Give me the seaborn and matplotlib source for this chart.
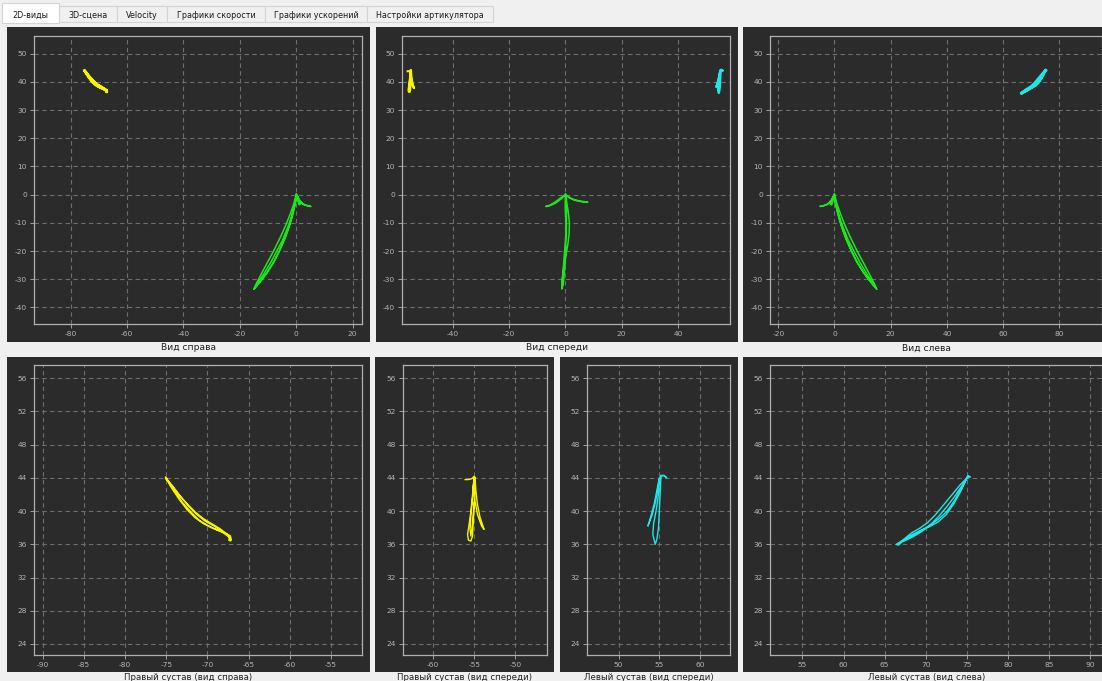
import matplotlib
matplotlib.use("Agg")
import matplotlib.pyplot as plt
from matplotlib.patches import Rectangle
import seaborn as sns

# right joint, side view
right_side_x = [-75.1, -74.5, -73.5, -72.5, -71.5, -70.5, -69.5, -68.5, -67.4, -67.2,
                -67.4, -67.3, -68.5, -69.5, -70.5, -71.5, -72.5, -73.5, -74.5, -75.0,
                -74.8, -74.0, -73.0, -72.0, -71.0, -70.0, -69.0, -68.0, -67.2, -67.1,
                -67.3, -68.2, -69.2, -70.3, -71.3, -72.3, -73.3, -74.3, -75.1]
right_side_y = [44.1, 43.0, 41.5, 40.2, 39.2, 38.5, 38.0, 37.6, 37.1, 36.4,
                36.5, 37.0, 37.9, 38.5, 39.1, 39.9, 40.9, 42.0, 43.3, 44.0,
                43.6, 42.4, 41.0, 39.9, 38.9, 38.3, 37.8, 37.4, 37.0, 36.5,
                36.8, 37.5, 38.2, 38.8, 39.6, 40.6, 41.8, 43.1, 43.9]

# right joint, front view
right_front_x = [-56.1, -55.7, -55.3, -55.0, -55.2, -55.4, -55.6, -55.8, -55.7, -55.4,
                 -55.2, -55.1, -55.0, -54.9, -54.9, -54.8, -54.6, -54.3, -53.9, -53.8,
                 -54.1, -54.6, -54.9, -55.1, -55.0, -55.2, -55.4, -55.5, -55.4, -55.2, -55.0]
right_front_y = [43.8, 43.8, 43.9, 44.2, 42.0, 40.0, 38.5, 37.2, 36.5, 36.4,
                 37.0, 39.0, 41.0, 42.5, 44.1, 42.5, 40.8, 39.3, 38.1, 37.8,
                 38.2, 39.6, 41.2, 43.0, 44.0, 41.5, 39.5, 37.8, 37.0, 38.5, 41.0]

# left joint, front view
left_front_x = [55.9, 55.6, 55.2, 55.0, 54.8, 54.5, 54.1, 53.6, 54.0, 54.4, 54.7, 55.0,
                54.9, 54.6, 54.3, 54.2, 54.5, 54.7, 54.9, 55.0, 55.1, 55.2, 55.5, 55.8]
left_front_y = [44.0, 44.3, 44.3, 43.8, 42.5, 41.0, 39.5, 38.2, 39.5, 41.0, 42.5, 44.0,
                42.0, 40.0, 38.5, 37.2, 36.0, 36.6, 38.0, 40.0, 42.0, 44.2, 44.3, 44.1]

# left joint, side view
left_side_x = [66.5, 67.5, 68.5, 69.5, 70.5, 71.5, 72.5, 73.5, 74.3, 75.1,
               74.2, 73.2, 72.2, 71.2, 70.2, 69.2, 68.3, 67.8, 67.2, 66.6,
               67.6, 68.6, 69.6, 70.6, 71.6, 72.6, 73.6, 74.6, 75.2, 75.4,
               75.1, 74.3, 73.4, 72.5, 71.5, 70.4, 69.4, 68.4, 67.4, 66.7,
               66.4, 66.7, 67.0]
left_side_y = [36.0, 36.6, 37.1, 37.7, 38.3, 39.0, 39.9, 41.3, 42.7, 44.1,
               43.2, 42.0, 40.8, 39.6, 38.6, 37.9, 37.4, 37.0, 36.5, 36.1,
               36.5, 37.0, 37.6, 38.4, 39.4, 40.6, 41.9, 43.4, 44.2, 44.1,
               44.3, 42.5, 40.9, 39.6, 38.7, 38.1, 37.7, 37.2, 36.6, 36.1,
               36.0, 35.9, 36.2]

# incisor point, side view (right); the left view is its mirror
incisor_side_x = [0.0, -0.8, -2.2, -3.8, -5.6, -7.8, -10.2, -12.6, -14.3, -15.1,
                  -13.4, -10.8, -8.2, -6.0, -4.0, -2.4, -1.2, -0.3, 0.2, -0.5,
                  -1.6, -3.0, -4.7, -6.9, -9.2, -11.7, -13.9, -14.9, -13.0, -10.4,
                  -7.9, -5.8, -3.9, -2.3, -1.0, 0.1, 0.8, 2.0, 3.5, 5.2,
                  4.2, 2.5, 1.2, 0.4, 1.5, 1.0, 0.5, 0.0]
incisor_side_y = [0.3, -3.0, -7.0, -11.0, -15.0, -19.5, -24.0, -28.5, -31.8, -33.6,
                  -31.6, -28.2, -24.2, -20.0, -15.5, -11.0, -7.0, -3.0, 0.0, -3.5,
                  -7.5, -11.5, -15.8, -20.0, -24.3, -28.4, -31.8, -33.4, -31.2, -27.8,
                  -23.8, -19.5, -15.0, -10.5, -5.5, -0.2, -1.5, -3.0, -3.8, -4.2,
                  -4.0, -3.5, -2.2, -0.5, -3.3, -3.6, -2.0, 0.0]

# incisor point, front view
incisor_front_x = [0.0, 0.5, 1.0, 1.4, 1.3, 0.8, 0.1, -0.6, -1.2, -1.3,
                   -0.8, -0.4, -0.1, 0.1, 0.2, 0.1, -0.1, 0.0, -1.5, -3.5,
                   -5.5, -7.0, -5.5, -3.5, -1.5, 0.0, 1.5, 3.5, 5.5, 8.0,
                   5.5, 3.0, 1.0, 0.0, 0.4, 0.3, -0.3, -0.9, -1.2]
incisor_front_y = [0.3, -3.0, -6.0, -10.0, -14.0, -18.0, -22.0, -26.0, -30.0, -33.5,
                   -32.0, -28.0, -24.0, -19.0, -14.0, -9.0, -4.0, 0.0, -1.5, -3.0,
                   -3.9, -4.2, -3.7, -2.5, -1.0, 0.0, -1.2, -2.0, -2.5, -2.7,
                   -2.3, -1.8, -0.7, 0.0, -5.0, -12.0, -20.0, -28.0, -33.0]

tabs = ["2D-виды", "3D-сцена", "Velocity", "Графики скорости",
        "Графики ускорений", "Настройки артикулятора"]
tab_edges = [2, 59, 117, 167, 265, 367, 493]

top_titles = ["Вид справа", "Вид спереди", "Вид слева"]
bottom_titles = ["Правый сустав (вид справа)", "Правый сустав (вид спереди)",
                 "Левый сустав (вид спереди)", "Левый сустав (вид слева)"]

YELLOW = "#f5f500"
GREEN = "#1ee61e"
CYAN = "#1ee6e6"
DARK = "#2b2b2b"

plt.rcParams["font.family"] = ["DejaVu Sans"]
plt.rcParams["axes.unicode_minus"] = False

W, H = 1102, 681
fig = plt.figure(figsize=(W / 100, H / 100), dpi=100, facecolor="#f0f0f0")


def frac(x0, y0, x1, y1):
    return [x0 / W, 1 - y1 / H, (x1 - x0) / W, (y1 - y0) / H]


def panel(dark_box, ax_box, xlim, ylim, xticks, yticks, title, title_y, title_size):
    l, b, w, h = frac(*dark_box)
    fig.add_artist(Rectangle((l, b), w, h, transform=fig.transFigure,
                             facecolor=DARK, edgecolor="none", zorder=0))
    ax = fig.add_axes(frac(*ax_box))
    ax.set_facecolor(DARK)
    ax.set_xlim(*xlim)
    ax.set_ylim(*ylim)
    ax.set_xticks(xticks)
    ax.set_yticks(yticks)
    ax.grid(True, color="#6e6e6e", linestyle=(0, (4, 3)), linewidth=0.8)
    ax.set_axisbelow(True)
    for s in ax.spines.values():
        s.set_color("#b0b0b0")
        s.set_linewidth(0.9)
    ax.tick_params(colors="#a0a0a0", labelcolor="#b4b4b4", labelsize=5.4,
                   length=3, width=0.7, pad=2)
    cx = (dark_box[0] + dark_box[2]) / 2
    fig.text(cx / W, 1 - title_y / H, title, ha="center", va="center",
             fontsize=title_size, color="#202020")
    return ax


def curve(ax, x, y, color, lw):
    sns.lineplot(x=x, y=y, sort=False, estimator=None, color=color,
                 linewidth=lw, ax=ax, legend=False)
    ax.set_xlabel("")
    ax.set_ylabel("")


# tab bar
for i, name in enumerate(tabs):
    x0, x1 = tab_edges[i], tab_edges[i + 1]
    if i == 0:
        l, b, w, h = frac(x0, 3, x1, 23)
        fc = "#ffffff"
    else:
        l, b, w, h = frac(x0, 6, x1, 22)
        fc = "#f0f0f0"
    fig.add_artist(Rectangle((l, b), w, h, transform=fig.transFigure,
                             facecolor=fc, edgecolor="#d4d4d4", linewidth=0.8, zorder=1))
    fig.text((x0 + x1) / 2 / W, 1 - 15 / H, name, ha="center", va="center",
             fontsize=5.8, color="#1a1a1a", zorder=2)

top_y = (-45.9, 56.3)
top_yt = list(range(-40, 51, 10))
bot_y = (22.67, 57.6)
bot_yt = list(range(24, 57, 4))

ax1 = panel((7, 27, 370, 342), (34, 36, 362, 324), (-93, 23.3), top_y,
            list(range(-80, 21, 20)), top_yt, top_titles[0], 348, 6.6)
curve(ax1, right_side_x, right_side_y, YELLOW, 1.8)
curve(ax1, incisor_side_x, incisor_side_y, GREEN, 1.1)

ax2 = panel((376, 27, 738, 342), (402, 36, 730, 324), (-58.1, 58.5), top_y,
            list(range(-40, 41, 20)), top_yt, top_titles[1], 348, 6.6)
curve(ax2, right_front_x, right_front_y, YELLOW, 1.5)
curve(ax2, left_front_x, left_front_y, CYAN, 1.5)
curve(ax2, incisor_front_x, incisor_front_y, GREEN, 1.1)

ax3 = panel((743, 27, 1110, 342), (770, 36, 1102, 324), (-22.95, 95.2), top_y,
            list(range(-20, 81, 20)), top_yt, top_titles[2], 348, 6.6)
curve(ax3, left_side_x, left_side_y, CYAN, 1.8)
curve(ax3, [-v for v in incisor_side_x], incisor_side_y, GREEN, 1.1)

ax4 = panel((7, 357, 370, 672), (34, 365, 362, 655), (-91.1, -51.2), bot_y,
            list(range(-90, -54, 5)), bot_yt, bottom_titles[0], 677, 6.2)
curve(ax4, right_side_x, right_side_y, YELLOW, 1.0)

ax5 = panel((375, 357, 554, 672), (403, 365, 547, 655), (-63.65, -46.15), bot_y,
            [-60, -55, -50], bot_yt, bottom_titles[1], 677, 6.2)
curve(ax5, right_front_x, right_front_y, YELLOW, 1.0)

ax6 = panel((560, 357, 738, 672), (587, 365, 730, 655), (46.13, 63.67), bot_y,
            [50, 55, 60], bot_yt, bottom_titles[2], 677, 6.2)
curve(ax6, left_front_x, left_front_y, CYAN, 1.0)

ax7 = panel((743, 357, 1110, 672), (770, 365, 1102, 655), (51.07, 91.4), bot_y,
            list(range(55, 91, 5)), bot_yt, bottom_titles[3], 677, 6.2)
curve(ax7, left_side_x, left_side_y, CYAN, 1.0)

fig.savefig("out.png", dpi=100, facecolor=fig.get_facecolor())
